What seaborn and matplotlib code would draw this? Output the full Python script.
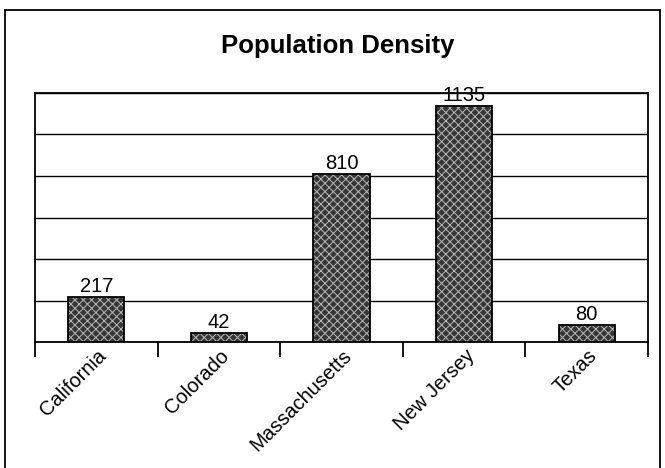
import matplotlib
matplotlib.use("Agg")
import matplotlib.pyplot as plt
import matplotlib.transforms as mtransforms
from matplotlib.patches import Rectangle
import seaborn as sns
import pandas as pd

states = ["California", "Colorado", "Massachusetts", "New Jersey", "Texas"]
density = [217, 42, 810, 1135, 80]

df = pd.DataFrame({"state": states, "density": density})

sns.set_style("white")
plt.rcParams["font.family"] = ["Liberation Sans", "DejaVu Sans"]
plt.rcParams["text.color"] = "black"
plt.rcParams["xtick.color"] = "black"
plt.rcParams["hatch.linewidth"] = 0.7

fig = plt.figure(figsize=(6.65, 4.68), dpi=100)
ax = fig.add_axes([35/665, 1-342/468, (648-35)/665, (342-93)/468])

# textured fill, then black outline on top
sns.barplot(data=df, x="state", y="density", color="#363636", width=0.46,
            saturation=1, hatch="xxxx", edgecolor="#b8b8b8", linewidth=0, ax=ax)
sns.barplot(data=df, x="state", y="density", fill=False, width=0.46,
            edgecolor="black", linewidth=1.3, ax=ax)

ax.bar_label(ax.containers[0], labels=[str(v) for v in density], fontsize=14.5, padding=1)

ax.set_xlim(-0.5, 4.5)
ax.set_ylim(0, 1200)
ax.set_yticks(range(0, 1201, 200))
ax.set_yticklabels([])
ax.tick_params(axis="y", length=0)
ax.yaxis.grid(True, color="black", linewidth=1)
ax.set_axisbelow(True)
ax.set_xlabel("")
ax.set_ylabel("")

ax.set_xticks([i - 0.5 for i in range(6)], minor=True)
ax.tick_params(axis="x", which="minor", bottom=True, length=11, width=1.3,
               color="black", direction="out")
ax.tick_params(axis="x", which="major", length=0, pad=3)
offset = mtransforms.ScaledTranslation(0.5/72, 0, fig.dpi_scale_trans)
for lbl in ax.get_xticklabels():
    lbl.set_rotation(45)
    lbl.set_ha("right")
    lbl.set_rotation_mode("anchor")
    lbl.set_fontsize(14.5)
    lbl.set_transform(lbl.get_transform() + offset)

for s in ax.spines.values():
    s.set_color("black")
    s.set_linewidth(1.3)

fig.text(0.508, 1-46/468, "Population Density", ha="center", va="center",
         fontsize=18.5, fontweight="bold")

fig.patches.append(Rectangle((5/665, -0.05), 655/665, 1.05-10/468, transform=fig.transFigure,
                             fill=False, edgecolor="black", linewidth=1.3))

fig.savefig("out.png", dpi=100)
